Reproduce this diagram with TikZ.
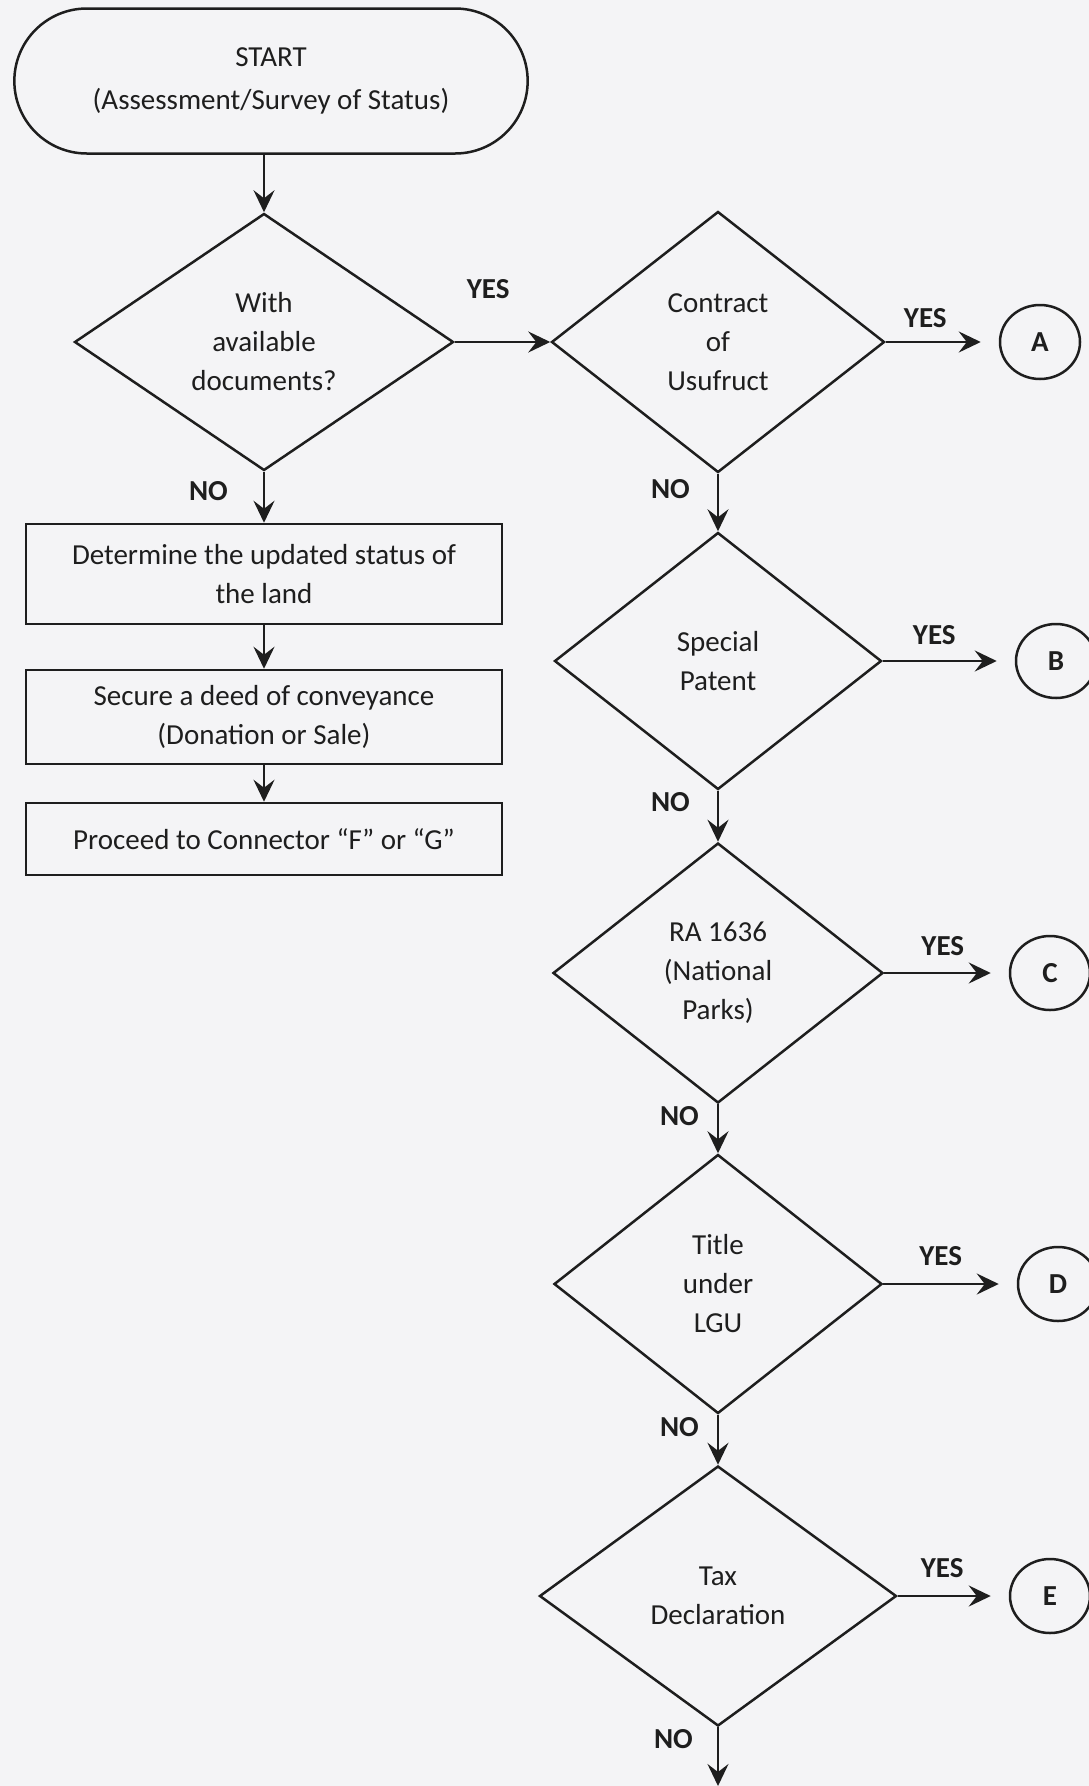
\documentclass[tikz,border=0pt]{standalone}
\usepackage{fontspec}
\setmainfont{Carlito}
\usepackage{tikz}
\usetikzlibrary{arrows.meta,positioning,shapes.geometric,shapes.misc}
\definecolor{ink}{RGB}{30,30,30}
\definecolor{paper}{RGB}{244,244,246}
\newcommand{\chartfont}{\fontsize{29pt}{39pt}\selectfont}
\tikzstyle{term}=[draw, rounded rectangle, minimum width=520pt, minimum height=145pt, align=center]
\tikzstyle{decision}=[draw, diamond, aspect=1.4, inner sep=0pt, align=center]
\tikzstyle{process}=[draw, rectangle, minimum width=476pt, align=center]
\tikzstyle{conn}=[draw, ellipse, minimum width=80pt, minimum height=74pt, inner sep=0pt, font=\chartfont\bfseries]
\tikzstyle{lbl}=[font=\chartfont\bfseries, inner sep=2pt]

\begin{document}
\begin{tikzpicture}[x=1pt,y=-1pt,>={Stealth[length=22pt,width=21pt,inset=8pt]},line width=2.5pt,color=ink,font=\chartfont]
    \path[use as bounding box, fill=paper] (0,0) rectangle (1089,1786);
    % left column
    \node [term] (start) at (271,81) {START\\[4pt](Assessment/Survey of Status)};
    \node [decision, minimum width=379pt, minimum height=257pt] (docs) [below of=start, node distance=261pt, xshift=-7pt] {With\\available\\documents?};
    \node [process, minimum height=100pt] (status) [below of=docs, node distance=232pt] {Determine the updated status of\\the land};
    \node [process, minimum height=94pt] (deed) [below of=status, node distance=143pt] {Secure a deed of conveyance\\(Donation or Sale)};
    \node [process, minimum height=72pt] (proceed) [below of=deed, node distance=122pt] {Proceed to Connector “F” or “G”};
    % right column
    \node [decision, minimum width=333pt, minimum height=261pt] (usufruct) [right of=docs, node distance=454pt] {Contract\\of\\Usufruct};
    \node [conn] (A) [right of=usufruct, node distance=322pt] {A};
    \node [decision, minimum width=327pt, minimum height=257pt] (patent) [below of=usufruct, node distance=319pt] {Special\\Patent};
    \node [conn] (B) [right of=patent, node distance=338pt] {B};
    \node [decision, minimum width=330pt, minimum height=260pt] (parks) [below of=patent, node distance=312pt] {RA 1636\\(National\\Parks)};
    \node [conn] (C) [right of=parks, node distance=332pt] {C};
    \node [decision, minimum width=328pt, minimum height=259pt] (lgu) [below of=parks, node distance=311pt] {Title\\under\\LGU};
    \node [conn] (D) [right of=lgu, node distance=340pt] {D};
    \node [decision, minimum width=357pt, minimum height=260pt] (taxdec) [below of=lgu, node distance=312pt] {Tax\\Declaration};
    \node [conn] (E) [right of=taxdec, node distance=332pt] {E};
    \node (next) [below of=taxdec, node distance=190pt, coordinate] {};
    \path[->]
    (start.south -| docs) edge (docs)
    (docs) edge node [lbl, pos=.35, above=40pt] {YES} (usufruct)
    (docs) edge node [lbl, pos=.38, left=33pt] {NO} (status)
    (status) edge (deed)
    (deed) edge (proceed)
    (usufruct) edge [shorten >=18pt] node [lbl, pos=.35, above=11pt] {YES} (A)
    (usufruct) edge node [lbl, pos=.27, left=25pt] {NO} (patent)
    (patent) edge [shorten >=18pt] node [lbl, pos=.39, above=13pt] {YES} (B)
    (patent) edge node [lbl, pos=.22, left=25pt] {NO} (parks)
    (parks) edge [shorten >=18pt] node [lbl, pos=.47, above=14pt] {YES} (C)
    (parks) edge node [lbl, pos=.25, left=16pt] {NO} (lgu)
    (lgu) edge [shorten >=18pt] node [lbl, pos=.43, above=15pt] {YES} (D)
    (lgu) edge node [lbl, pos=.24, left=16pt] {NO} (taxdec)
    (taxdec) edge [shorten >=18pt] node [lbl, pos=.4, above=15pt] {YES} (E)
    (taxdec) edge node [lbl, pos=.2, left=22pt] {NO} (next);
\end{tikzpicture}
\end{document}
